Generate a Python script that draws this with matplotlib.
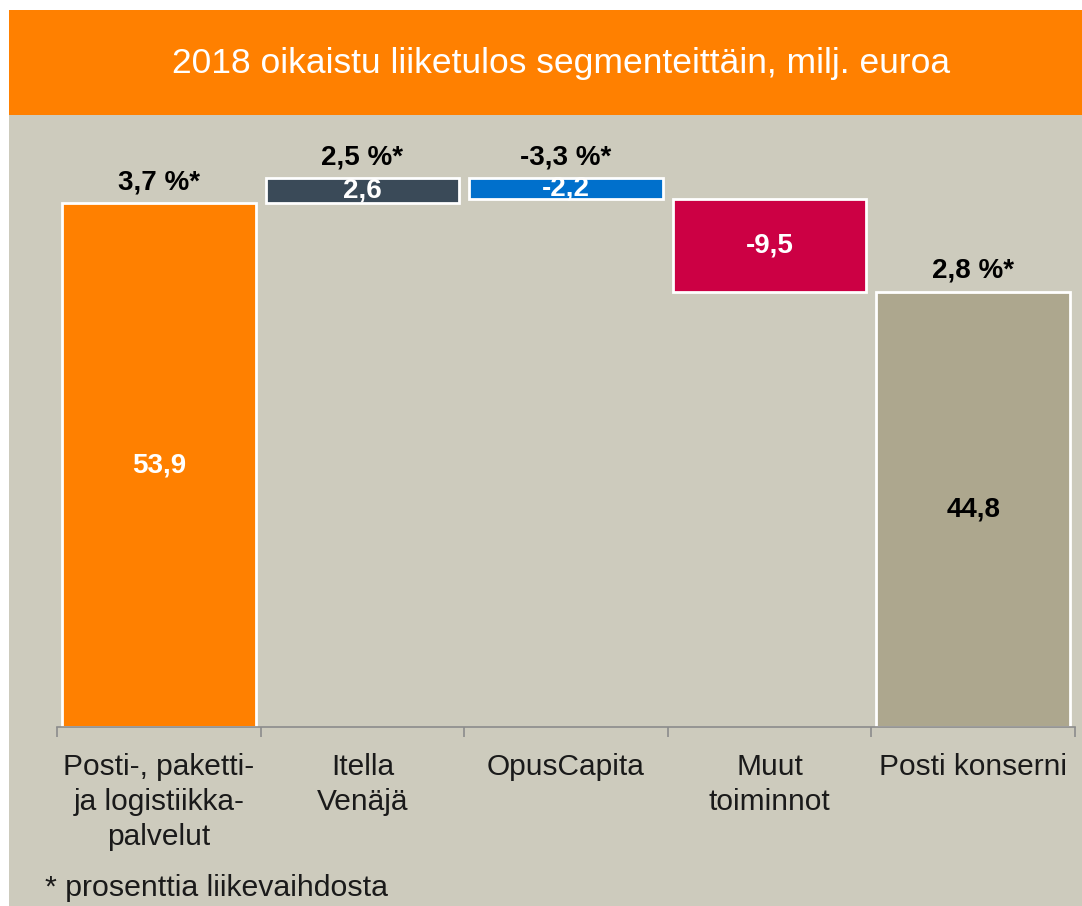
import numpy as np
import matplotlib.pyplot as plt
from matplotlib.patches import Rectangle

plt.rcParams['font.family'] = ['Liberation Sans', 'DejaVu Sans']

# data
categories = ["Posti-, paketti-\nja logistiikka-\npalvelut", "Itella\nVenäjä", "OpusCapita",
              "Muut\ntoiminnot", "Posti konserni"]
values = [53.9, 2.6, -2.2, -9.5, 44.8]
is_total = [True, False, False, False, True]
pct_labels = ["3,7 %*", "2,5 %*", "-3,3 %*", "", "2,8 %*"]
value_labels = ["53,9", "2,6", "-2,2", "-9,5", "44,8"]
bar_colors = ["#FF8000", "#3A4A58", "#0070CC", "#CC0044", "#ADA78E"]
value_colors = ["white", "white", "white", "white", "black"]

bg = "#CDCBBD"
W, H = 1082, 906
fig = plt.figure(figsize=(W / 100, H / 100), dpi=100)
fig.patch.set_facecolor("white")

# gray panel + orange header band
fig.patches.append(Rectangle((9 / W, 0), 1, 1 - 115 / H, transform=fig.transFigure,
                             facecolor=bg, edgecolor="none", zorder=-10))
fig.patches.append(Rectangle((9 / W, 1 - 115 / H), 1, (115 - 10) / H, transform=fig.transFigure,
                             facecolor="#FF8000", edgecolor="none", zorder=-10))
fig.text(561 / W, 1 - 64 / H, "2018 oikaistu liiketulos segmenteittäin, milj. euroa",
         color="white", fontsize=25.5, ha="center", va="center")

# axes area: baseline at y=727 px, top at y=130 px
ax = fig.add_axes([57 / W, (H - 727) / H, (1075 - 57) / W, (727 - 130) / H])
ax.set_facecolor("none")

# waterfall bottoms
bottoms = []
heights = []
running = 0.0
for v, tot in zip(values, is_total):
    if tot:
        bottoms.append(0)
        heights.append(v)
        running = v
    else:
        bottoms.append(min(running, running + v))
        heights.append(abs(v))
        running += v
bottoms = np.array(bottoms)
heights = np.array(heights)
tops = bottoms + heights

x = np.arange(len(values))
ax.bar(x, heights, bottom=bottoms, width=0.95, color=bar_colors, edgecolor="white", linewidth=2)

for i in range(len(values)):
    ax.text(x[i], bottoms[i] + heights[i] / 2, value_labels[i], ha="center", va="center",
            color=value_colors[i], fontsize=20, fontweight="bold")
    if pct_labels[i]:
        ax.text(x[i], tops[i] + 0.8, pct_labels[i], ha="center", va="bottom",
                color="black", fontsize=20, fontweight="bold")

ax.set_xlim(-0.5, len(values) - 0.5)
ax.set_ylim(0, (727 - 130) / 9.72)
ax.set_yticks([])
for s in ["top", "right", "left"]:
    ax.spines[s].set_visible(False)
ax.spines["bottom"].set_color("#8C8C8C")
ax.spines["bottom"].set_linewidth(1.2)

ax.set_xticks(np.arange(len(values) + 1) - 0.5, minor=False)
ax.set_xticklabels([])
ax.tick_params(axis="x", length=7, color="#8C8C8C", width=1.2)
for i, c in enumerate(categories):
    ax.text(x[i], -2.7, c, ha="center", va="top", fontsize=21.5, linespacing=1.32,
            color="#1A1A1A")

fig.text(45 / W, 1 - 888 / H, "* prosenttia liikevaihdosta", fontsize=21.8, va="center",
         color="#1A1A1A")

fig.savefig("out.png", dpi=100, facecolor=fig.get_facecolor())
